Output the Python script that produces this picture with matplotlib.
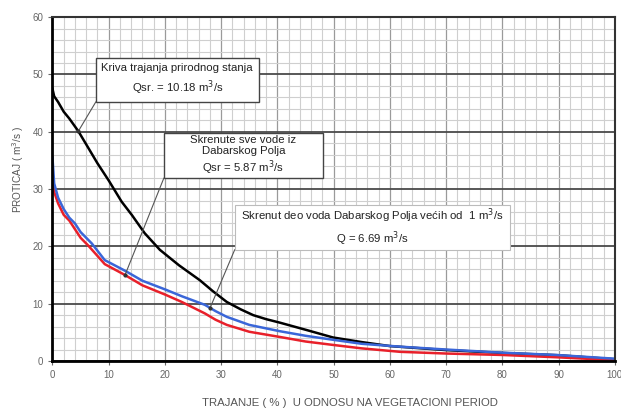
import matplotlib.pyplot as plt
import numpy as np

plt.rcParams['font.family'] = ['Liberation Sans', 'DejaVu Sans']

# duration (%) and discharge (m3/s)
x_prirodno = [0, 0.3, 1, 2, 3, 4.6, 6, 8, 10, 12.3, 14.1, 16.4, 19.1, 22.5, 26.2, 28.5, 31,
              33.5, 35.7, 38, 40.4, 45.2, 49.9, 55, 60, 70, 80, 90, 100]
q_prirodno = [47.5, 46.2, 45.2, 43.5, 42.3, 40.1, 37.8, 34.5, 31.5, 27.8, 25.5, 22.3, 19.4,
              16.7, 14.1, 12.2, 10.3, 9.0, 8.0, 7.3, 6.7, 5.4, 4.1, 3.3, 2.6, 1.9, 1.4, 1.0, 0.3]

x_deo = [0, 0.3, 1, 2, 3, 4, 5, 7, 9.3, 12.9, 16, 20, 23, 27.1, 29, 31, 35, 40.4, 45, 49.9,
         55, 61.8, 70, 80, 89.6, 100]
q_deo = [35.5, 31, 28.5, 26.5, 25, 24, 22.5, 20.5, 17.6, 15.75, 14.0, 12.5, 11.3, 9.8, 8.7,
         7.7, 6.3, 5.2, 4.4, 3.7, 3.0, 2.5, 2.0, 1.45, 1.05, 0.4]

x_sve = [0, 0.3, 1, 2, 3, 4, 5, 6.4, 9.3, 12.9, 16, 20, 23, 27.1, 29, 31, 35, 40.4, 45, 49.9,
         55, 61.8, 70, 80, 89.6, 100]
q_sve = [31, 29.5, 27.5, 25.5, 24.5, 23, 21.5, 20.1, 16.9, 15.0, 13.2, 11.6, 10.3, 8.3, 7.2,
         6.3, 5.1, 4.2, 3.4, 2.8, 2.2, 1.6, 1.3, 1.05, 0.65, 0.15]

fig = plt.figure(figsize=(6.21, 4.09), dpi=100)
ax = fig.add_axes([0.0845, 0.1174, 0.9055, 0.8406])

# graph paper grid
for v in np.arange(0, 101, 2):
    if v % 10:
        ax.axvline(v, color='#cfcfcf', lw=0.8, zorder=1)
    else:
        ax.axvline(v, color='#9a9a9a', lw=0.9, zorder=1)
for v in np.arange(0, 61, 2):
    if v % 10:
        ax.axhline(v, color='#cfcfcf', lw=0.8, zorder=1)
    else:
        ax.axhline(v, color='#4a4a4a', lw=1.3, zorder=1)

ax.plot(x_prirodno, q_prirodno, color='black', lw=1.8, zorder=3)
ax.plot(x_sve, q_sve, color='#e8202a', lw=1.8, zorder=3)
ax.plot(x_deo, q_deo, color='#3a66d8', lw=1.8, zorder=4)

ax.set_xlim(0, 100)
ax.set_ylim(0, 60)
ax.set_xticks(range(0, 101, 10))
ax.set_yticks(range(0, 61, 10))
ax.tick_params(labelsize=7, colors='#666666', length=3, width=0.8)
for s in ['left', 'bottom']:
    ax.spines[s].set_linewidth(2)
    ax.spines[s].set_color('black')
for s in ['right', 'top']:
    ax.spines[s].set_linewidth(1.5)
    ax.spines[s].set_color('#333333')
ax.spines[:].set_zorder(5)

fig.text(18 / 621, 1 - 170 / 409, 'PROTICAJ ( m$^3$/s )', fontsize=7.2, color='#555555',
         rotation=90, ha='center', va='center',
         family=['Liberation Sans Narrow', 'Liberation Sans', 'DejaVu Sans'])
fig.text(350 / 621, 1 - 403 / 409, 'TRAJANJE ( % )  U ODNOSU NA VEGETACIONI PERIOD',
         fontsize=8.2, color='#555555', ha='center', va='center')

# annotation boxes
def note(x0, x1, y0, y1, txt, line, ec, lw, ls=1.35):
    ax.plot([line[0], line[2]], [line[1], line[3]], color='#555555', lw=0.8, zorder=6)
    ax.plot(line[2], line[3], 'o', color='#333333', ms=2, zorder=6)
    ax.add_patch(plt.Rectangle((x0, y0), x1 - x0, y1 - y0, facecolor='white',
                               edgecolor=ec, lw=lw, zorder=7))
    ax.text((x0 + x1) / 2, (y0 + y1) / 2, txt, ha='center', va='center',
            fontsize=8.2, color='#222222', linespacing=ls, zorder=8)

note(7.7, 36.7, 45.2, 52.9,
     'Kriva trajanja prirodnog stanja\nQsr. = 10.18 m$^3$/s',
     (7.7, 45.2, 4.6, 40.1), '#444444', 1.0)
note(19.8, 48.1, 31.9, 39.7,
     'Skrenute sve vode iz\nDabarskog Polja\nQsr = 5.87 m$^3$/s',
     (19.8, 31.9, 12.9, 15.0), '#444444', 1.0, ls=1.15)
note(32.4, 81.3, 19.4, 27.3,
     'Skrenut deo voda Dabarskog Polja većih od  1 m$^3$/s\nQ = 6.69 m$^3$/s',
     (32.4, 19.4, 28.0, 9.2), '#bbbbbb', 0.8)

fig.savefig('out.png', dpi=100)
